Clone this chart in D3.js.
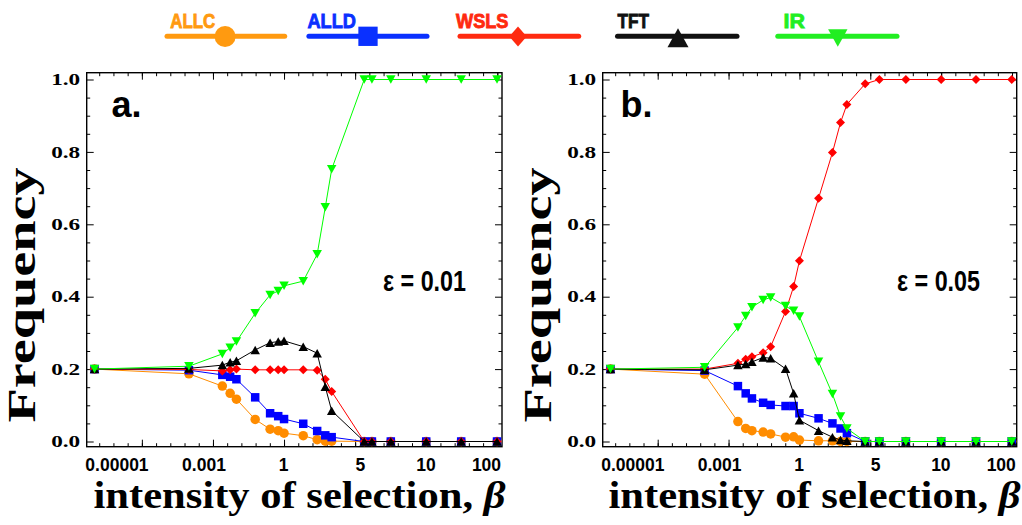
<!DOCTYPE html>
<html><head><meta charset="utf-8">
<script src="https://cdn.jsdelivr.net/npm/d3@7"></script>
<style>body{margin:0;background:#fff} svg{display:block}</style>
</head><body>
<svg id="chart" width="1022" height="525"></svg>
<script>
// ---------------- data ----------------
const strategies = ["ALLC", "ALLD", "WSLS", "TFT", "IR"];
const lineColors = ["#FF8C00", "#0000FF", "#FF0000", "#000000", "#00FF00"];
const legendColors = ["#FF9A10", "#0A30FF", "#FF2A10", "#111111", "#22EE22"];
const markerTypes = ["circle", "square", "diamond", "triangle", "triangleDown"];

// x: position along the (non-uniform) beta axis, in minor-tick units
const xPosA = [-0.33, 6.31, 8.66, 9.21, 9.65, 10.97, 12.02, 12.59, 13.0, 14.35, 15.33, 15.9, 16.35, 18.64, 19.18, 20.51, 23.0, 25.46, 27.98];
const allcA = [0.2, 0.187, 0.153, 0.133, 0.117, 0.061, 0.034, 0.030, 0.023, 0.016, 0.005, 0.001, 0.001, 0, 0, 0, 0, 0, 0];
const alldA = [0.2, 0.197, 0.184, 0.179, 0.172, 0.122, 0.078, 0.070, 0.062, 0.049, 0.029, 0.017, 0.012, 0, 0, 0, 0, 0, 0];
const wslsA = [0.2, 0.199, 0.195, 0.198, 0.200, 0.198, 0.198, 0.198, 0.198, 0.198, 0.197, 0.172, 0.138, 0, 0, 0, 0, 0, 0];
const tftA  = [0.2, 0.202, 0.211, 0.219, 0.223, 0.253, 0.273, 0.276, 0.278, 0.262, 0.244, 0.151, 0.085, 0, 0, 0, 0, 0, 0];
const irA   = [0.2, 0.208, 0.242, 0.259, 0.276, 0.354, 0.405, 0.416, 0.430, 0.443, 0.517, 0.647, 0.752, 1, 1, 1, 1, 1, 1];

const xPosB = [-0.33, 6.31, 8.66, 9.21, 9.65, 10.44, 10.97, 12.02, 12.59, 13.0, 14.35, 15.33, 15.9, 16.35, 17.64, 18.64, 20.51, 23.0, 25.46, 27.98];
const allcB = [0.2, 0.186, 0.055, 0.036, 0.030, 0.026, 0.021, 0.012, 0.013, 0.004, 0.002, 0.002, 0, 0, 0, 0, 0, 0, 0, 0];
const alldB = [0.2, 0.196, 0.153, 0.133, 0.119, 0.107, 0.101, 0.098, 0.098, 0.078, 0.064, 0.050, 0.036, 0.023, 0, 0, 0, 0, 0, 0];
const wslsB = [0.2, 0.200, 0.216, 0.227, 0.234, 0.245, 0.262, 0.359, 0.428, 0.499, 0.672, 0.798, 0.881, 0.931, 0.988, 1, 1, 1, 1, 1];
const tftB  = [0.2, 0.198, 0.211, 0.214, 0.220, 0.232, 0.230, 0.201, 0.133, 0.059, 0.030, 0.012, 0.004, 0.002, 0, 0, 0, 0, 0, 0];
const irB   = [0.2, 0.205, 0.315, 0.347, 0.371, 0.391, 0.398, 0.374, 0.361, 0.345, 0.220, 0.131, 0.069, 0.036, 0, 0, 0, 0, 0, 0];

const xMinorTicks = d3.range(0, 29);
const xMajorTicks = [3, 8, 13, 18, 23, 28];
const xTickLabels = ["0.00001", "0.001", "1", "5", "10", "100"];
const xTickLabelPos = [1.25, 7.37, 12.97, 18.37, 22.98, 27.24];
const yMajorTicks = [0, 0.2, 0.4, 0.6, 0.8, 1.0];
const yMinorTicks = [0.05, 0.1, 0.15, 0.25, 0.3, 0.35, 0.45, 0.5, 0.55, 0.65, 0.7, 0.75, 0.85, 0.9, 0.95];
const panelLabels = ["a.", "b."];
const epsLabels = ["\u03B5 = 0.01", "\u03B5 = 0.05"];

// ---------------- layout ----------------
const svg = d3.select("#chart");
const panels = [
  { left: 86.7, right: 502, xs: xPosA, series: [allcA, alldA, wslsA, tftA, irA], labX: 111.5, epsX: 383, xlabC: 299.5, freqX: 35 },
  { left: 602.7, right: 1016.7, xs: xPosB, series: [allcB, alldB, wslsB, tftB, irB], labX: 620.5, epsX: 897, xlabC: 814.5, freqX: 550.5 }
];
const frameTop = 72.7, frameBottom = 446.7;
const xDomain = [-0.88, 28.33];

function drawMarker(g, type, cx, cy, w, h, color) {
  if (type === "circle") {
    g.append("ellipse").attr("cx", cx).attr("cy", cy).attr("rx", w / 2).attr("ry", h / 2).attr("fill", color);
  } else if (type === "square") {
    g.append("rect").attr("x", cx - w / 2).attr("y", cy - h / 2).attr("width", w).attr("height", h).attr("fill", color);
  } else {
    const p = d3.path();
    if (type === "diamond") {
      p.moveTo(cx, cy - h / 2); p.lineTo(cx + w / 2, cy); p.lineTo(cx, cy + h / 2); p.lineTo(cx - w / 2, cy);
    } else if (type === "triangle") {
      p.moveTo(cx, cy - h / 2); p.lineTo(cx + w / 2, cy + h / 2); p.lineTo(cx - w / 2, cy + h / 2);
    } else {
      p.moveTo(cx - w / 2, cy - h / 2); p.lineTo(cx + w / 2, cy - h / 2); p.lineTo(cx, cy + h / 2);
    }
    p.closePath();
    g.append("path").attr("d", p.toString()).attr("fill", color);
  }
}
const markerSize = { circle: [9.5, 9.5], square: [8.5, 8.5], diamond: [9, 9], triangle: [9.5, 8.5], triangleDown: [9.5, 8.5] };

panels.forEach((P, pi) => {
  const x = d3.scaleLinear().domain(xDomain).range([P.left, P.right]);
  const y = d3.scaleLinear().domain([0, 1]).range([441.5, 79.5]);
  const g = svg.append("g");

  const mk = (axis, tx, ty, vals, size) => g.append("g").attr("transform", `translate(${tx},${ty})`)
    .call(axis.tickValues(vals).tickSize(size).tickFormat(""))
    .call(s => { s.select(".domain").remove(); s.selectAll("line").attr("stroke", "#000").attr("stroke-width", 1); });
  mk(d3.axisBottom(x), 0, frameBottom, xMinorTicks, -3.5);
  mk(d3.axisBottom(x), 0, frameBottom, xMajorTicks, -7);
  mk(d3.axisTop(x), 0, frameTop, xMinorTicks, -3.5);
  mk(d3.axisTop(x), 0, frameTop, xMajorTicks, -7);
  mk(d3.axisLeft(y), P.left, 0, yMinorTicks, -3.5);
  mk(d3.axisLeft(y), P.left, 0, yMajorTicks, -7);
  mk(d3.axisRight(y), P.right, 0, yMinorTicks, -3.5);
  mk(d3.axisRight(y), P.right, 0, yMajorTicks, -7);

  g.append("rect").attr("x", P.left).attr("y", frameTop).attr("width", P.right - P.left).attr("height", frameBottom - frameTop)
    .attr("fill", "none").attr("stroke", "#000").attr("stroke-width", 1.4);

  g.selectAll(".ytl").data(yMajorTicks).join("text")
    .attr("x", P.left - 6.5).attr("y", d => y(d)).attr("dy", "0.34em")
    .attr("text-anchor", "end").attr("font-family", "Liberation Serif, Times New Roman, serif")
    .attr("font-weight", "bold").attr("font-size", 16.5)
    .attr("textLength", 29).attr("lengthAdjust", "spacingAndGlyphs")
    .text(d => d.toFixed(1));

  g.selectAll(".xtl").data(xTickLabels).join("text")
    .attr("x", (d, i) => x(xTickLabelPos[i])).attr("y", 470.5)
    .attr("text-anchor", "middle").attr("font-family", "Liberation Sans, Arial, sans-serif")
    .attr("font-weight", "bold").attr("font-size", 17.5)
    .text(d => d);

  const line = d3.line().x((d, i) => x(P.xs[i])).y(d => y(d));
  P.series.forEach((vals, si) => {
    const sg = g.append("g");
    sg.append("path").attr("d", line(vals)).attr("fill", "none").attr("stroke", lineColors[si]).attr("stroke-width", 1);
    vals.forEach((v, i) => {
      const [w, h] = markerSize[markerTypes[si]];
      drawMarker(sg, markerTypes[si], x(P.xs[i]), y(v), w, h, lineColors[si]);
    });
  });

  g.append("text").attr("x", P.labX).attr("y", 116.5).attr("font-family", "Liberation Sans, Arial, sans-serif")
    .attr("font-weight", "bold").attr("font-size", 36).text(panelLabels[pi]);
  g.append("text").attr("x", P.epsX).attr("y", 290.5).attr("font-family", "Liberation Sans, Arial, sans-serif")
    .attr("font-weight", "bold").attr("font-size", 30).attr("textLength", 83).attr("lengthAdjust", "spacingAndGlyphs")
    .text(epsLabels[pi]);

  const xl = g.append("text").attr("x", P.xlabC).attr("y", 507.5).attr("text-anchor", "middle")
    .attr("font-family", "Liberation Serif, Times New Roman, serif").attr("font-weight", "bold").attr("font-size", 37)
    .attr("textLength", 412).attr("lengthAdjust", "spacingAndGlyphs");
  xl.append("tspan").text("intensity of selection, ");
  xl.append("tspan").attr("font-style", "italic").text("\u03B2");

  g.append("text").attr("transform", `translate(${P.freqX},295) rotate(-90)`).attr("text-anchor", "middle")
    .attr("font-family", "Liberation Serif, Times New Roman, serif").attr("font-weight", "bold").attr("font-size", 39)
    .attr("textLength", 255).attr("lengthAdjust", "spacingAndGlyphs").text("Frequency");
});

// ---------------- legend ----------------
const legText = [170.3, 307.4, 456, 617.5, 783.6];
const legTextW = [45, 48.5, 52.5, 31.5, 21.4];
const legLine = [[167, 284.7], [308.9, 427], [460, 578.7], [617.5, 737], [777.8, 897]];
const legMarkX = [225.1, 368, 518, 678, 837.8];
const legMarkY = [36.5, 36.3, 36.5, 37.8, 38];
const legMarkSize = { circle: [21, 21], square: [19.3, 19.3], diamond: [17.4, 20], triangle: [21, 19], triangleDown: [19.4, 17.3] };
const lg = svg.append("g");
strategies.forEach((s, i) => {
  lg.append("text").attr("x", legText[i]).attr("y", 28.3).attr("fill", legendColors[i])
    .attr("stroke", legendColors[i]).attr("stroke-width", 0.9)
    .attr("font-family", "Liberation Sans Narrow, Liberation Sans, Arial, sans-serif").attr("font-weight", "bold")
    .attr("font-size", 21).attr("textLength", legTextW[i]).attr("lengthAdjust", "spacingAndGlyphs").text(s);
  lg.append("line").attr("x1", legLine[i][0]).attr("x2", legLine[i][1]).attr("y1", 36.3).attr("y2", 36.3)
    .attr("stroke", legendColors[i]).attr("stroke-width", 5).attr("stroke-linecap", "round");
  const [w, h] = legMarkSize[markerTypes[i]];
  drawMarker(lg, markerTypes[i], legMarkX[i], legMarkY[i], w, h, legendColors[i]);
});
</script>
</body></html>
